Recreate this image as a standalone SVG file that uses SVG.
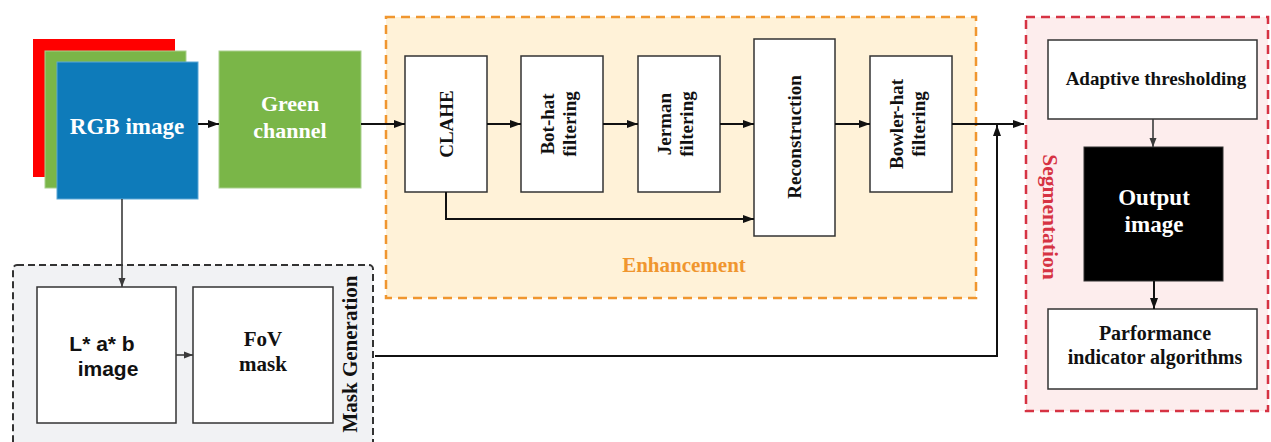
<svg xmlns="http://www.w3.org/2000/svg" width="1271" height="442" viewBox="0 0 1271 442">
  <defs>
    <marker id="arrow" markerUnits="userSpaceOnUse" markerWidth="12" markerHeight="10" refX="11" refY="5" orient="auto">
      <path d="M0,1 L11,5 L0,9 Z" fill="#111"/>
    </marker>
    <marker id="arrow-gray" markerUnits="userSpaceOnUse" markerWidth="10" markerHeight="8" refX="9" refY="4" orient="auto">
      <path d="M0,0.5 L9,4 L0,7.5 Z" fill="#3a3a3a"/>
    </marker>
    <style>
      .box { fill: #ffffff; stroke: #333333; stroke-width: 1.5; }
      .serif { font-family: "Liberation Serif", "Times New Roman", serif; font-weight: bold; }
      .sans { font-family: "Liberation Sans", Arial, sans-serif; font-weight: bold; }
      .lbl { font-size: 19px; fill: #111111; text-anchor: middle; }
      .white { fill: #ffffff; text-anchor: middle; }
      .wire { fill: none; stroke: #111111; stroke-width: 2; }
      .wire-gray { fill: none; stroke: #3a3a3a; stroke-width: 1.6; }
    </style>
  </defs>

  <!-- group frames -->
  <g id="enhancement">
    <rect x="386" y="17" width="590" height="281" fill="#fff2d8" stroke="#f0962f" stroke-width="2.5" stroke-dasharray="9 6"/>
    <text class="serif" x="684" y="272" font-size="21" fill="#f0962f" text-anchor="middle">Enhancement</text>
  </g>
  <g id="mask-generation">
    <rect x="13" y="265" width="360" height="190" rx="4" fill="#f1f2f4" stroke="#333333" stroke-width="2" stroke-dasharray="7 4"/>
    <text class="serif" transform="translate(357,354) rotate(-90)" font-size="21" fill="#111" text-anchor="middle">Mask Generation</text>
  </g>
  <g id="segmentation">
    <rect x="1026" y="17" width="242" height="394" fill="#fdeded" stroke="#d63343" stroke-width="2.5" stroke-dasharray="9 6"/>
    <text class="serif" transform="translate(1043,217) rotate(90)" font-size="21.5" fill="#d63343" text-anchor="middle">Segmentation</text>
  </g>

  <!-- input stack -->
  <g id="rgb-image">
    <rect x="33" y="39" width="142" height="138" fill="#ff0000"/>
    <rect x="45" y="51" width="141" height="137" fill="#7ab648" stroke="#a9d08e" stroke-width="1"/>
    <rect x="57" y="62" width="141" height="137" fill="#0e7bba" stroke="#5aa7d6" stroke-width="1"/>
    <text class="serif white" x="127" y="134" font-size="23">RGB image</text>
  </g>
  <g id="green-channel">
    <rect x="219" y="51" width="142" height="137" fill="#7ab648" stroke="#a9d08e" stroke-width="1"/>
    <text class="serif white" x="290" y="111" font-size="22">Green</text>
    <text class="serif white" x="290" y="138" font-size="22">channel</text>
  </g>

  <!-- enhancement stages -->
  <g id="clahe">
    <rect class="box" x="405" y="56" width="82" height="136"/>
    <text class="serif lbl" transform="translate(446,124) rotate(-90)" y="7">CLAHE</text>
  </g>
  <g id="bot-hat">
    <rect class="box" x="521" y="56" width="82" height="136"/>
    <text class="serif lbl" transform="translate(562,124) rotate(-90)"><tspan x="0" y="-8">Bot-hat</tspan><tspan x="0" y="14">filtering</tspan></text>
  </g>
  <g id="jerman">
    <rect class="box" x="638" y="56" width="82" height="136"/>
    <text class="serif lbl" transform="translate(679,124) rotate(-90)"><tspan x="0" y="-8">Jerman</tspan><tspan x="0" y="14">filtering</tspan></text>
  </g>
  <g id="reconstruction">
    <rect class="box" x="754" y="39" width="81" height="197"/>
    <text class="serif lbl" transform="translate(795,137) rotate(-90)" y="6">Reconstruction</text>
  </g>
  <g id="bowler-hat">
    <rect class="box" x="870" y="56" width="82" height="136"/>
    <text class="serif lbl" transform="translate(911,124) rotate(-90)"><tspan x="0" y="-8">Bowler-hat</tspan><tspan x="0" y="14">filtering</tspan></text>
  </g>

  <!-- mask generation stages -->
  <g id="lab-image">
    <rect class="box" x="37" y="287" width="139" height="136"/>
    <text class="sans" x="102" y="351" font-size="21" fill="#111" text-anchor="middle">L* a* b</text>
    <text class="sans" x="108" y="376" font-size="21" fill="#111" text-anchor="middle">image</text>
  </g>
  <g id="fov-mask">
    <rect class="box" x="193" y="287" width="140" height="136"/>
    <text class="serif" x="263" y="346" font-size="21" fill="#111" text-anchor="middle">FoV</text>
    <text class="serif" x="263" y="371" font-size="21" fill="#111" text-anchor="middle">mask</text>
  </g>

  <!-- segmentation stages -->
  <g id="adaptive-thresholding">
    <rect class="box" x="1048" y="40" width="209" height="79"/>
    <text class="serif" x="1156" y="85" font-size="19" fill="#111" text-anchor="middle">Adaptive thresholding</text>
  </g>
  <g id="output-image">
    <rect x="1084" y="147" width="139" height="134" fill="#000000" stroke="#333" stroke-width="1"/>
    <text class="serif white" x="1154" y="205" font-size="23">Output</text>
    <text class="serif white" x="1154" y="232" font-size="23">image</text>
  </g>
  <g id="performance-indicators">
    <rect class="box" x="1048" y="309" width="209" height="80"/>
    <text class="serif" x="1155" y="340" font-size="20" fill="#111" text-anchor="middle">Parformance</text>
    <text class="serif" x="1155" y="364" font-size="20" fill="#111" text-anchor="middle">indicator algorithms</text>
  </g>

  <!-- connectors -->
  <g id="connectors">
    <path class="wire" d="M198,124 H219" marker-end="url(#arrow)"/>
    <path class="wire" d="M361,124 H405" marker-end="url(#arrow)"/>
    <path class="wire" d="M487,124 H521" marker-end="url(#arrow)"/>
    <path class="wire" d="M603,124 H638" marker-end="url(#arrow)"/>
    <path class="wire" d="M720,124 H754" marker-end="url(#arrow)"/>
    <path class="wire" d="M835,124 H870" marker-end="url(#arrow)"/>
    <path class="wire" d="M952,124 H1024" marker-end="url(#arrow)"/>
    <path class="wire" d="M446,192 V219 H754" marker-end="url(#arrow)"/>
    <path class="wire-gray" d="M122,199 V287" marker-end="url(#arrow-gray)"/>
    <path class="wire-gray" d="M176,355 H193" marker-end="url(#arrow-gray)"/>
    <path class="wire" d="M375,356 H997 V125" marker-end="url(#arrow)"/>
    <path class="wire-gray" d="M1153,119 V147" marker-end="url(#arrow-gray)"/>
    <path class="wire" d="M1154,281 V309" marker-end="url(#arrow)"/>
  </g>
</svg>
